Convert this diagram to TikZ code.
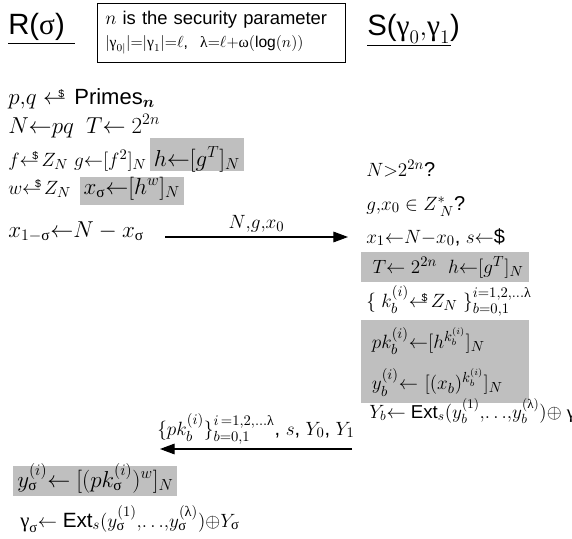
\documentclass[tikz,border=0pt]{standalone}
\usepackage{amsmath}
\usepackage{fontspec}
\setmainfont{Liberation Sans}
\newfontfamily\grk{Liberation Serif}
\usetikzlibrary{arrows.meta,positioning}
\newcommand\rnd{{\leftarrow\mkern-11mu\raisebox{0.55ex}{\fontsize{8}{8}\selectfont\$}\mkern3mu}}
\newcommand\usig{\text{\grk σ}}
\newcommand\ugam{\text{\grk γ}}
\newcommand\ulam{\text{\grk λ}}
\newcommand\uome{\text{\grk ω}}

\begin{document}
\begin{tikzpicture}[
    x=0.75pt,y=-0.75pt,
    ltxt/.style={anchor=base west,inner sep=0pt,font=\fontsize{16.5}{20}\selectfont},
    rtxt/.style={anchor=base west,inner sep=0pt,font=\fontsize{15}{18}\selectfont},
    shaded/.style={fill=gray!50,anchor=base west,inner xsep=3pt,inner ysep=0pt},
    party/.style={anchor=base west,inner sep=0pt,font=\fontsize{22}{26}\selectfont},
    msg/.style={-{Triangle[length=11pt,width=8pt]},line width=0.8pt},
    lbl/.style={above,inner sep=3pt,font=\fontsize{15}{18}\selectfont}
  ]
    \useasboundingbox (0,0) rectangle (572,539);

    % parties and parameters
    \node[party] (rec) at (8,34) {R($\usig$)};
    \node[party] (snd) at (367,36) {S($\ugam_0{,}\ugam_1$)};
    \draw (8,43) -- (75,43);
    \draw (367,45) -- (451,45);
    \node[draw,anchor=north west,align=left,text width=174pt,inner xsep=6pt,
          minimum height=44pt,font=\fontsize{13.8}{17}\selectfont] (par) at (97,3)
      {$n$ is the security parameter\\
       {\fontsize{11.7}{15}\selectfont$|\ugam_{0|}|{=}|\ugam_1|{=}\ell$,\ \ $\ulam{=}\ell{+}\uome(\text{log}(n))$}};

    % receiver, first round
    \node[ltxt] (r1) at (8,104) {$p{,}q \mathrel{\rnd}$ Primes$_{\boldsymbol{n}}$};
    \node[ltxt] (r2) at (8,133) {$N{\leftarrow}pq\ \ T{\leftarrow}$ $2^{2n}$};
    \node[ltxt,font=\fontsize{15.5}{19}\selectfont] (r3) at (8,166) {$f\rnd Z_N\ g{\leftarrow}[f^2]_N$};
    \node[ltxt,shaded,minimum width=63.75pt,text height=21pt,text depth=4pt]
      (r3h) at ([xshift=2pt]r3.base east) {$h{\leftarrow}[g^T]_N$};
    \node[ltxt,font=\fontsize{15.5}{19}\selectfont] (r4) at (8,194) {$w\rnd Z_N$};
    \node[ltxt,shaded,minimum width=65pt,text height=13pt,text depth=8pt]
      (r4x) at ([xshift=6pt]r4.base east) {$x_\usig{\leftarrow}[h^w]_N$};
    \node[ltxt] (r5) at (8,237) {$x_{1-\usig}{\leftarrow}N - x_\usig$};

    % sender
    \node[rtxt] (s1) at (366,176) {$N{>}2^{2n}$?};
    \node[rtxt] (s2) at (366,210) {$g{,}x_0\in Z^{*}_{\;N}$?};
    \node[rtxt] (s3) at (366,243) {$x_1{\leftarrow}N{-}x_0$, $s{\leftarrow}$\$};
    \node[rtxt,shaded,minimum width=126pt,text height=16pt,text depth=7pt]
      (s4) at (361,273) {\ $T{\leftarrow}$ $2^{2n}$\ \ $h{\leftarrow}[g^T]_N$};
    \node[rtxt] (s5) at (366,307) {$\{\ k_b^{(i)}\rnd Z_N\ \}^{i=1,2,\ldots\ulam}_{b=0,1}$};
    \node[rtxt,shaded,anchor=north west,align=left,text width=120pt,minimum height=62pt,
          inner ysep=4pt] (s6) at (361,320)
      {\ $pk_b^{(i)}{\leftarrow}[h^{k_b^{(i)}}]_N$\\[9pt]
       \ $y_b^{(i)}{\leftarrow}$ $[(x_b)^{k_b^{(i)}}]_N$};
    \node[rtxt,font=\fontsize{14}{17}\selectfont] (s7) at (369,418)
      {$Y_b{\leftarrow}$ Ext$_s(y_b^{(1)}{,}{\ldots}{,}y_b^{(\ulam)}){\oplus}$ $\ugam_b$};

    % receiver, second round
    \node[ltxt,shaded,minimum width=110pt,text height=16pt,text depth=7pt]
      (r6) at (13,487) {$y_\usig^{(i)}{\leftarrow}$ $[(pk_\usig^{(i)})^w]_N$};
    \node[ltxt,font=\fontsize{15.5}{19}\selectfont] (r7) at (20,527)
      {$\ugam_\usig{\leftarrow}$ Ext$_s(y_\usig^{(1)}{,}{\ldots}{,}y_\usig^{(\ulam)}){\oplus}Y_\usig$};

    % messages
    \coordinate (m1a) at (165,237);
    \coordinate (m1b) at (348,237);
    \coordinate (m2a) at (352,449);
    \coordinate (m2b) at (160,449);
    \draw[msg] (m1a) -- node[lbl] {$N{,}g{,}x_0$} (m1b);
    \draw[msg] (m2a) -- node[lbl] {$\{pk_b^{(i)}\}^{i\,=1,2,\ldots\ulam}_{b=0,1}$, $s$, $Y_0$, $Y_1$} (m2b);
  \end{tikzpicture}
\end{document}
